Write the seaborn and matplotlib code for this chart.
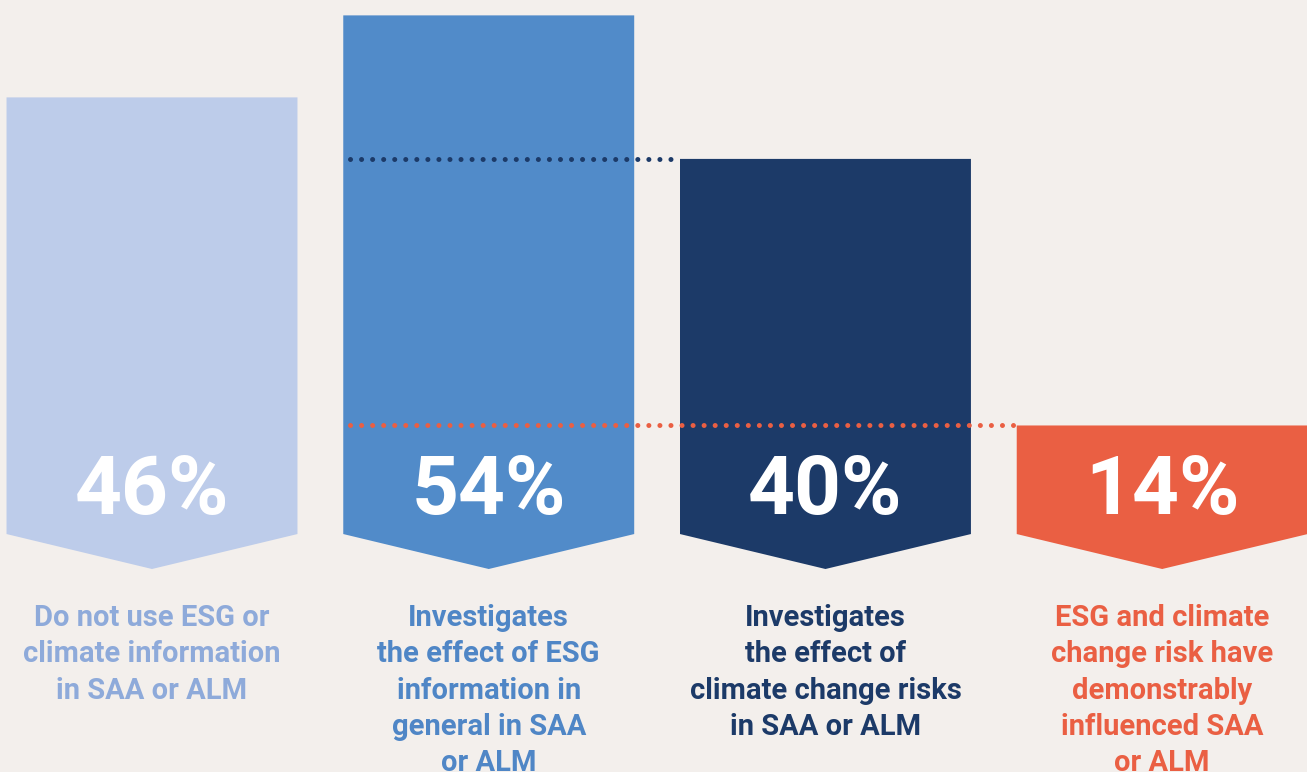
"""Chevron bar chart: ESG / climate information in SAA or ALM."""

import matplotlib
matplotlib.use("Agg")
import matplotlib.pyplot as plt
from matplotlib.patches import Polygon
import seaborn as sns

categories = ["Do not use", "Investigates ESG", "Investigates climate", "Demonstrably influenced"]
values = [46, 54, 40, 14]
value_labels = ["46%", "54%", "40%", "14%"]
descriptions = [
    "Do not use ESG or\nclimate information\nin SAA or ALM",
    "Investigates\nthe effect of ESG\ninformation in\ngeneral in SAA\nor ALM",
    "Investigates\nthe effect of\nclimate change risks\nin SAA or ALM",
    "ESG and climate\nchange risk have\ndemonstrably\ninfluenced SAA\nor ALM",
]
bar_colors = ["#BDCCEA", "#518BC9", "#1C3A68", "#EA5F43"]
text_colors = ["#8EAADA", "#4F86C6", "#1C3A68", "#EA5F43"]
bg = "#F3EFEC"

sns.set_theme(style="white")
plt.rcParams["font.family"] = ["Roboto", "DejaVu Sans"]

fig = plt.figure(figsize=(13.07, 7.72), dpi=100, facecolor=bg)
ax = fig.add_axes([0, 0, 1, 1])
ax.set_facecolor(bg)

sns.barplot(x=categories, y=values, hue=categories, palette=bar_colors,
            width=0.864, saturation=1, legend=False, ax=ax)

ax.set_xlim(-0.4514, 3.430)
ax.set_ylim(-19.8, 55.5)
ax.axis("off")

# swap the plain rectangles for chevron shapes (pointed bottom)
notch = 3.41
bars = [c.patches[0] for c in ax.containers]
for bar, color in zip(bars, bar_colors):
    x0 = bar.get_x()
    w = bar.get_width()
    top = bar.get_height()
    bar.set_visible(False)
    poly = Polygon([(x0, top), (x0 + w, top), (x0 + w, notch),
                    (x0 + w / 2, 0), (x0, notch)],
                   closed=True, facecolor=color, edgecolor="none", zorder=2)
    ax.add_patch(poly)

# dotted guide lines from the second bar to the bars they compare with
gap = 0.01
for target, color in [(2, bar_colors[2]), (3, bar_colors[3])]:
    x_start = bars[1].get_x() + 0.02
    x_end = bars[target].get_x() - gap
    ax.plot([x_start, x_end], [values[target]] * 2, color=color, lw=3.6,
            ls=(0, (0.01, 2.2)), dash_capstyle="round", zorder=3)

for i, (lab, desc, tc) in enumerate(zip(value_labels, descriptions, text_colors)):
    ax.text(i, 7.5, lab, ha="center", va="center", color="white",
            fontsize=59, fontweight="bold", zorder=4)
    ax.text(i, -3.4, desc, ha="center", va="top", color=tc, fontsize=21,
            fontweight="bold", linespacing=1.38)

fig.savefig("out.png", dpi=100, facecolor=bg)
